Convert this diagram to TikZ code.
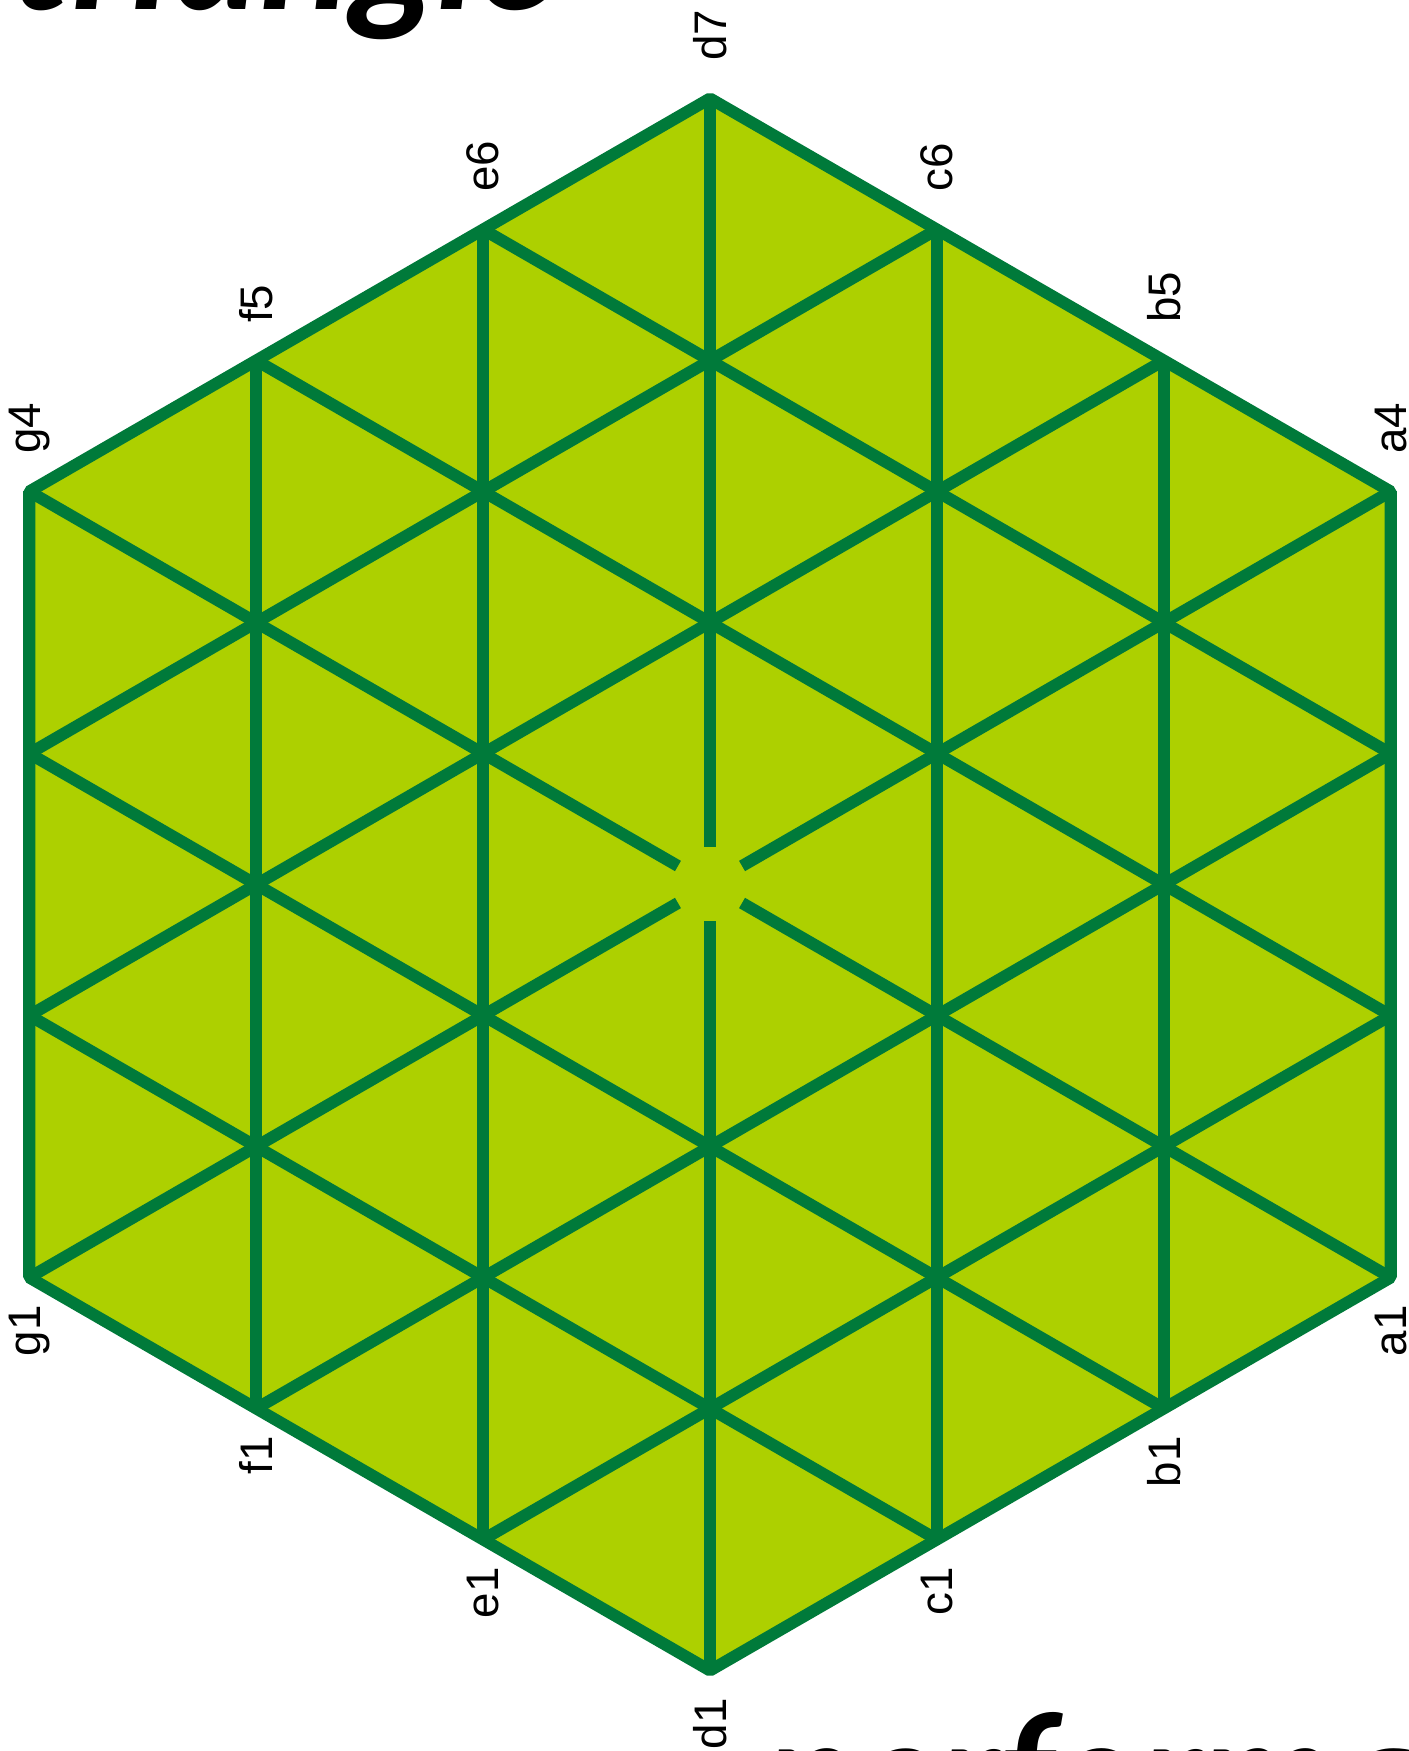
\documentclass[tikz,border=0pt]{standalone}
\usepackage{fontspec}
\setmainfont{Liberation Sans}
\newfontfamily\bigtitle{Lato}
\usetikzlibrary{calc}
\definecolor{HexLime}{RGB}{173,208,0}
\definecolor{HexGreen}{RGB}{0,122,58}

\begin{document}
\begin{tikzpicture}[
    gridline/.style={line width=3.4pt,HexGreen},
    cellname/.style={rotate=90,inner sep=0pt,font=\fontsize{13}{15}\selectfont},
    banner/.style={inner sep=0pt,font=\bigtitle\bfseries\itshape\fontsize{48}{52}\selectfont}
  ]
  \useasboundingbox (0,0) rectangle (14.09,17.51);
  % board points, column by column
  \def\side{2.62}
  \def\colw{2.269}
  \foreach \col/\k/\n in {g/-3/4,f/-2/5,e/-1/6,d/0/7,c/1/6,b/2/5,a/3/4}{
    \foreach \j in {1,...,\n}{
      \coordinate (\col\j) at ({7.10+\k*\colw},{8.665+(\j-(\n+1)/2)*\side});
    }
  }
  \fill[HexLime] (g1) -- (d1) -- (a1) -- (a4) -- (d7) -- (g4) -- cycle;
  % files
  \foreach \col/\n in {g/4,f/5,e/6,c/6,b/5,a/4}
    \draw[gridline] (\col1) -- (\col\n);
  % diagonals
  \foreach \p/\q in {g3/c6,g2/b5,f1/a3,e1/a2,e6/a3,f5/a2,g3/b1,g2/c1}
    \draw[gridline] (\p) -- (\q);
  % lines through the middle stop short of it
  \foreach \p in {d1,d7,g1,a4,g4,a1}
    \draw[gridline,shorten >=0.37cm] (\p) -- (d4);
  \draw[gridline,line join=bevel] (g1) -- (d1) -- (a1) -- (a4) -- (d7) -- (g4) -- cycle;
  % names
  \foreach \p in {g4,f5,e6,d7,c6,b5,a4}
    \node[cellname,anchor=west] (top-\p) at ($(\p)+(0,0.37)$) {\p};
  \foreach \col in {g,f,e,d,c,b,a}
    \node[cellname,anchor=east] (bot-\col) at ($(\col1)+(0,-0.27)$) {\col1};
  % cut-off titles
  \node[banner,anchor=base east] (ttl) at (5.6,17.41) {triangle};
  \node[banner,anchor=base west] (sub) at (7.65,-0.86) {performance};
\end{tikzpicture}
\end{document}
